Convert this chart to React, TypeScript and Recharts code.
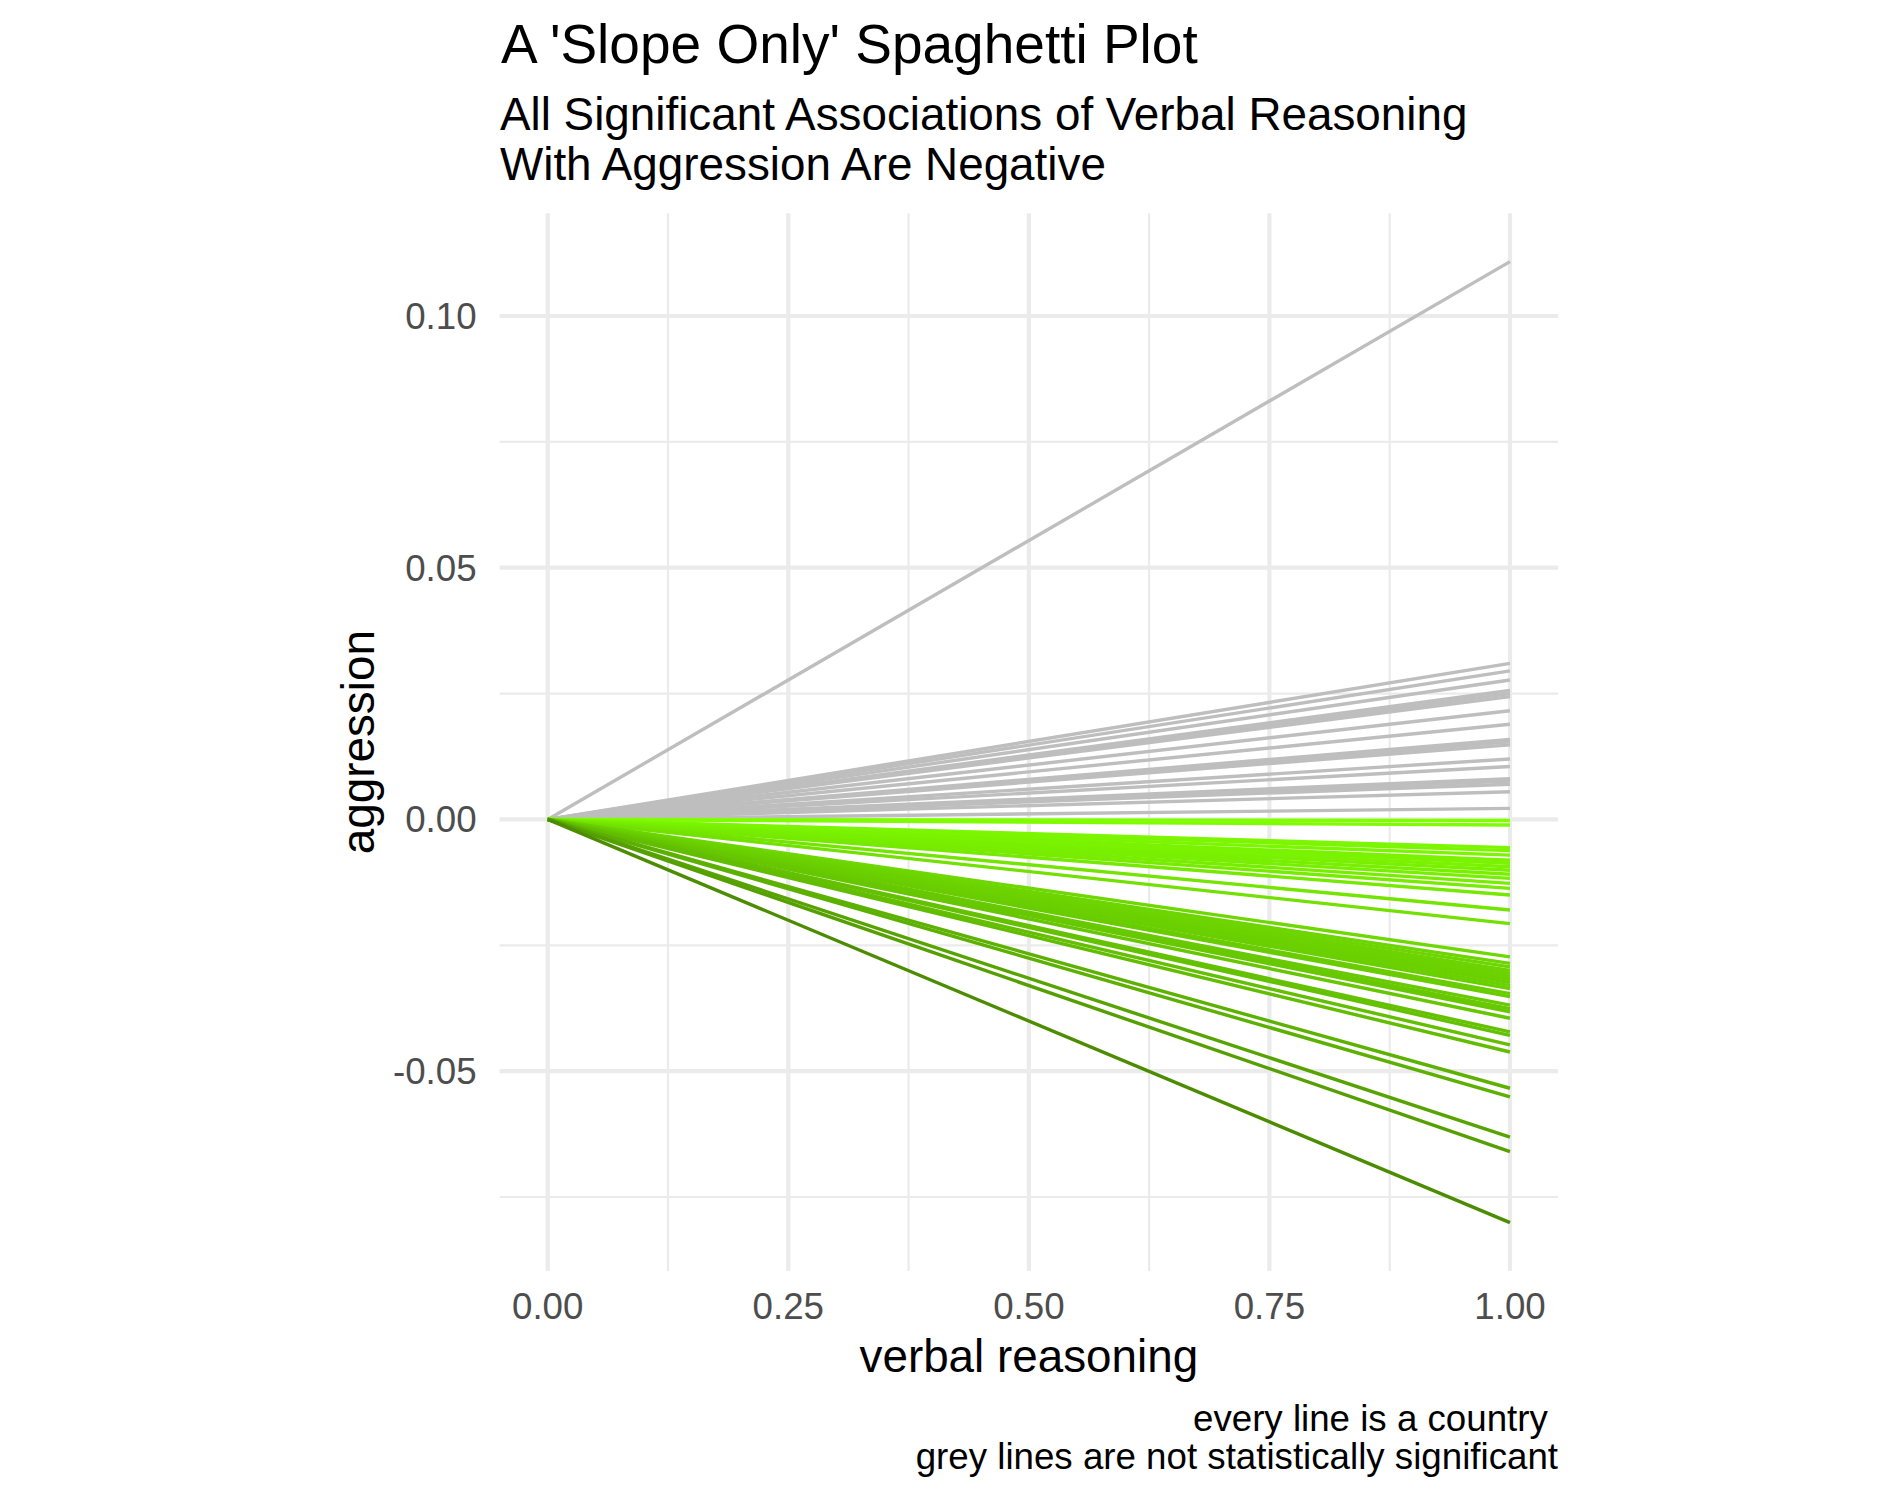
import React from "react";
import {
  LineChart,
  Line,
  XAxis,
  YAxis,
  CartesianGrid,
  Label,
} from "recharts";

// slope of each country (value of aggression at verbal reasoning = 1)
const greySlopes = [
  0.1108, 0.031, 0.0295, 0.0277, 0.0256, 0.025, 0.0244, 0.0216, 0.0189,
  0.0159, 0.0154, 0.0148, 0.012, 0.0105, 0.0081, 0.0076, 0.007, 0.0055,
  0.0022,
];
const greenSlopes = [
  -0.0002, -0.0011, -0.0056, -0.0062, -0.0071, -0.0081, -0.0087, -0.0094,
  -0.0101, -0.0109, -0.0117, -0.0127, -0.0137, -0.015, -0.018, -0.0207,
  -0.0273, -0.0286, -0.0293, -0.03, -0.0306, -0.0312, -0.0318, -0.0324,
  -0.033, -0.0336, -0.0346, -0.0352, -0.0369, -0.0376, -0.0382, -0.0395,
  -0.0422, -0.0429, -0.0448, -0.0462, -0.0534, -0.0551, -0.0631, -0.066,
  -0.0801,
];
const xTicks = [0, 0.25, 0.5, 0.75, 1];
const xMinor = [0.125, 0.375, 0.625, 0.875];
const yTicks = [-0.05, 0, 0.05, 0.1];
const yMinor = [-0.075, -0.025, 0.025, 0.075];

const title = "A 'Slope Only' Spaghetti Plot";
const subtitle = [
  "All Significant Associations of Verbal Reasoning",
  "With Aggression Are Negative",
];
const caption = [
  "every line is a country ",
  "grey lines are not statistically significant",
];

const FONT = "'Liberation Sans', Arial, Helvetica, sans-serif";

// colour scale for significant slopes: bright green near 0, darker when steeper
const lowSlope = Math.min(...greenSlopes);
function greenFor(v: number) {
  const t = Math.min(1, Math.max(0, v / lowSlope));
  const from = [0x80, 0xff, 0x00];
  const to = [0x4c, 0x8c, 0x00];
  const c = from.map((f, i) => Math.round(f + (to[i] - f) * t));
  return `rgb(${c[0]},${c[1]},${c[2]})`;
}

const series = [
  ...greySlopes.map((v, i) => ({ key: `g${i}`, slope: v, color: "#BEBEBE" })),
  ...greenSlopes.map((v, i) => ({ key: `s${i}`, slope: v, color: greenFor(v) })),
];

const data = [0, 1].map((x) => {
  const row: any = { x };
  series.forEach((s) => (row[s.key] = x * s.slope));
  return row;
});

const fmt = (v: number) => v.toFixed(2);

export default function App() {
  return (
    <div
      style={{
        position: "absolute",
        left: 0,
        top: 0,
        width: 1899,
        height: 1500,
        background: "#fff",
        fontFamily: FONT,
      }}
    >
      <LineChart
        width={1899}
        height={1500}
        data={data}
        margin={{ top: 213.3, right: 340.9, bottom: 129, left: 0 }}
      >
        <CartesianGrid
          stroke="#EBEBEB"
          strokeWidth={2.2}
          horizontalValues={yMinor}
          verticalValues={xMinor}
        />
        <CartesianGrid
          stroke="#EBEBEB"
          strokeWidth={4.2}
          horizontalValues={yTicks}
          verticalValues={xTicks}
        />
        <XAxis
          dataKey="x"
          type="number"
          domain={[-0.05, 1.05]}
          ticks={xTicks}
          tickFormatter={fmt}
          axisLine={false}
          tickLine={false}
          tickSize={6}
          tickMargin={16}
          height={100}
          tick={{ fill: "#4D4D4D", fontSize: 36.7, fontFamily: FONT }}
          allowDataOverflow
        >
          <Label
            value="verbal reasoning"
            position="insideTop"
            offset={68}
            style={{ fill: "#000", fontSize: 45.8, fontFamily: FONT }}
          />
        </XAxis>
        <YAxis
          type="number"
          domain={[-0.0897, 0.1204]}
          ticks={yTicks}
          tickFormatter={fmt}
          axisLine={false}
          tickLine={false}
          tickSize={6}
          tickMargin={17}
          width={499.6}
          tick={{ fill: "#4D4D4D", fontSize: 36.7, fontFamily: FONT }}
          allowDataOverflow
        >
          <Label
            value="aggression"
            angle={-90}
            position="insideLeft"
            offset={358}
            style={{
              textAnchor: "middle",
              fill: "#000",
              fontSize: 45.8,
              fontFamily: FONT,
            }}
          />
        </YAxis>
        {series.map((s) => (
          <Line
            key={s.key}
            dataKey={s.key}
            type="linear"
            stroke={s.color}
            strokeWidth={3.4}
            dot={false}
            activeDot={false}
            isAnimationActive={false}
          />
        ))}
      </LineChart>
      <svg
        width={1899}
        height={1500}
        style={{ position: "absolute", left: 0, top: 0, pointerEvents: "none" }}
      >
        <text x={501} y={63} fontSize={55} fontFamily={FONT} fill="#000">
          {title}
        </text>
        {subtitle.map((t, i) => (
          <text
            key={t}
            x={500}
            y={130 + i * 50}
            fontSize={45.8}
            fontFamily={FONT}
            fill="#000"
          >
            {t}
          </text>
        ))}
        {caption.map((t, i) => (
          <text
            key={t}
            x={1558}
            y={1431 + i * 38}
            fontSize={36.7}
            fontFamily={FONT}
            fill="#000"
            textAnchor="end"
            style={{ whiteSpace: "pre" }}
          >
            {t}
          </text>
        ))}
      </svg>
    </div>
  );
}
